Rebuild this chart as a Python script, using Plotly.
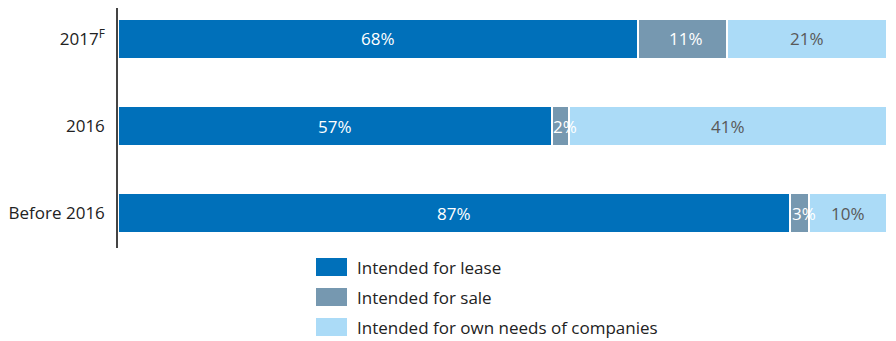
import plotly.graph_objects as go

categories = ["Before 2016", "2016", "2017<sup>F</sup>"]
# bar lengths (share, %) as drawn
lease = [87.4, 56.4, 67.6]
sale = [2.5, 2.3, 11.6]
own = [10.1, 41.3, 20.8]
# printed labels
lease_lbl = ["87%", "57%", "68%"]
sale_lbl = ["3%", "2%", "11%"]
own_lbl = ["10%", "41%", "21%"]
series_names = ["Intended for lease", "Intended for sale", "Intended for own needs of companies"]
colors = ["#0070BA", "#7698B0", "#ABDBF7"]
text_colors = ["white", "white", "#595959"]
label_shift = [0, 4, 0]

FONT = "Open Sans, Noto Sans, sans-serif"

fig = go.Figure()
series = [lease, sale, own]
labels = [lease_lbl, sale_lbl, own_lbl]
for name, vals, col in zip(series_names, series, colors):
    fig.add_trace(go.Bar(
        y=categories, x=vals, orientation="h", name=name,
        marker=dict(color=col, line=dict(color="white", width=2)),
        showlegend=False, hoverinfo="x+name",
    ))

# value labels on top of all bars, centred in each segment (y = category index)
for ci, cat in enumerate(categories):
    start = 0.0
    for vals, lbls, tc, xs in zip(series, labels, text_colors, label_shift):
        v = vals[ci]
        fig.add_annotation(x=start + v / 2, y=ci, xref="x", yref="y",
                           text=lbls[ci], showarrow=False, xshift=xs,
                           font=dict(size=17, color=tc, family=FONT))
        start += v

L, R, T, B = 118, 9, 8, 93
W, H = 896, 341
fig.update_layout(
    barmode="stack", bargap=0.547,
    width=W, height=H,
    margin=dict(l=L, r=R, t=T, b=B),
    paper_bgcolor="white", plot_bgcolor="white",
    font=dict(family=FONT, size=17, color="#222222"),
    xaxis=dict(range=[0, 100], showticklabels=False, showgrid=False, zeroline=False, showline=False),
    yaxis=dict(type="category", categoryorder="array", categoryarray=categories,
               range=[-0.402, 2.356],
               showline=True, linecolor="#444444", linewidth=1.5, ticks="",
               ticklabelstandoff=8, showgrid=False, zeroline=False,
               tickfont=dict(size=17, color="#222222", family=FONT)),
)

# Manual legend (paper coords)
pw = W - L - R
ph = H - T - B
for i, (name, col) in enumerate(zip(series_names, colors)):
    yc = 267 + 30 * i
    fig.add_shape(type="rect", xref="paper", yref="paper",
                  x0=(316 - L) / pw, x1=(347 - L) / pw,
                  y0=(H - B - (yc + 9)) / ph, y1=(H - B - (yc - 9)) / ph,
                  fillcolor=col, line=dict(width=0))
    fig.add_annotation(xref="paper", yref="paper",
                       x=(357 - L) / pw, y=(H - B - yc) / ph,
                       text=name, showarrow=False, xanchor="left", yanchor="middle",
                       xshift=-2,
                       font=dict(size=17, color="#222222", family=FONT))

fig.write_html("out.html")
